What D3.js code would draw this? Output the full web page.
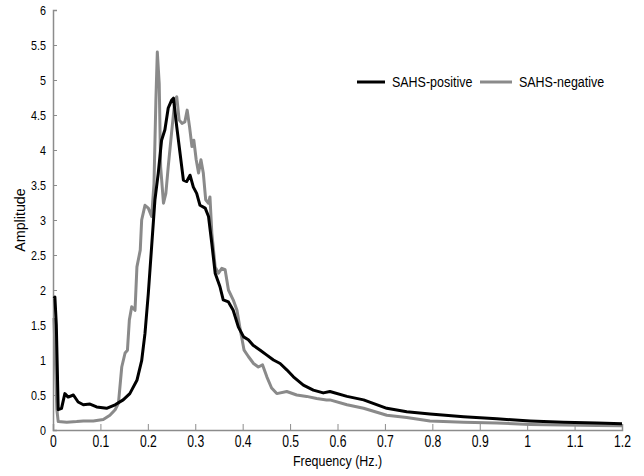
<!DOCTYPE html>
<html>
<head>
<meta charset="utf-8">
<script src="https://cdn.jsdelivr.net/npm/d3@7"></script>
<style>
  body { margin: 0; background: #fff; }
  svg text { font-family: "Liberation Sans", Arial, sans-serif; }
</style>
</head>
<body>
<div id="chart"></div>
<script>
// data
const xTicks = [0, 0.1, 0.2, 0.3, 0.4, 0.5, 0.6, 0.7, 0.8, 0.9, 1, 1.1, 1.2];
const yTicks = [0, 0.5, 1, 1.5, 2, 2.5, 3, 3.5, 4, 4.5, 5, 5.5, 6];

const posFreq = [0.002, 0.004, 0.007, 0.011, 0.018, 0.025, 0.032, 0.043, 0.053, 0.064, 0.078, 0.092, 0.113, 0.131, 0.148, 0.162, 0.177, 0.187, 0.194, 0.201, 0.208, 0.215, 0.222, 0.229, 0.236, 0.243, 0.250, 0.254, 0.261, 0.268, 0.275, 0.282, 0.289, 0.296, 0.303, 0.310, 0.321, 0.328, 0.335, 0.342, 0.352, 0.359, 0.370, 0.380, 0.391, 0.402, 0.412, 0.422, 0.437, 0.451, 0.465, 0.479, 0.493, 0.507, 0.528, 0.549, 0.570, 0.584, 0.620, 0.655, 0.704, 0.746, 0.795, 0.866, 0.936, 1.006, 1.077, 1.147, 1.2];
const posAmp  = [1.88, 1.90, 1.50, 0.29, 0.31, 0.52, 0.47, 0.50, 0.40, 0.36, 0.37, 0.33, 0.31, 0.36, 0.43, 0.52, 0.71, 0.99, 1.38, 1.95, 2.62, 3.29, 3.67, 4.14, 4.29, 4.60, 4.71, 4.74, 4.33, 3.95, 3.57, 3.55, 3.64, 3.47, 3.38, 3.21, 3.17, 3.05, 2.66, 2.24, 2.05, 1.86, 1.83, 1.71, 1.47, 1.33, 1.29, 1.21, 1.14, 1.07, 1.00, 0.95, 0.86, 0.76, 0.64, 0.57, 0.53, 0.55, 0.48, 0.43, 0.31, 0.26, 0.23, 0.19, 0.16, 0.13, 0.11, 0.10, 0.09];

const negFreq = [0.002, 0.005, 0.008, 0.011, 0.029, 0.050, 0.064, 0.085, 0.106, 0.120, 0.131, 0.138, 0.145, 0.152, 0.157, 0.161, 0.166, 0.173, 0.177, 0.184, 0.187, 0.194, 0.201, 0.208, 0.213, 0.217, 0.220, 0.224, 0.227, 0.233, 0.238, 0.243, 0.250, 0.257, 0.261, 0.266, 0.272, 0.278, 0.283, 0.288, 0.293, 0.297, 0.302, 0.307, 0.312, 0.317, 0.322, 0.328, 0.331, 0.335, 0.342, 0.349, 0.356, 0.363, 0.370, 0.380, 0.388, 0.395, 0.403, 0.412, 0.423, 0.433, 0.442, 0.451, 0.461, 0.472, 0.493, 0.514, 0.535, 0.556, 0.577, 0.584, 0.620, 0.655, 0.704, 0.746, 0.795, 0.866, 0.936, 1.006, 1.077, 1.147, 1.2];
const negAmp  = [1.60, 1.00, 0.30, 0.12, 0.11, 0.12, 0.13, 0.13, 0.15, 0.21, 0.29, 0.38, 0.90, 1.10, 1.14, 1.57, 1.76, 1.71, 2.33, 2.57, 3.00, 3.21, 3.17, 3.05, 3.52, 4.71, 5.40, 4.95, 3.76, 3.24, 3.38, 3.76, 4.24, 4.71, 4.76, 4.43, 4.38, 4.40, 4.57, 4.33, 4.05, 4.14, 3.86, 3.67, 3.86, 3.67, 3.29, 3.24, 3.33, 2.81, 2.33, 2.24, 2.31, 2.29, 2.00, 1.86, 1.71, 1.43, 1.14, 1.05, 0.95, 0.90, 0.93, 0.76, 0.60, 0.52, 0.55, 0.50, 0.48, 0.45, 0.43, 0.43, 0.36, 0.31, 0.21, 0.18, 0.13, 0.11, 0.10, 0.08, 0.07, 0.065, 0.06];

const seriesNames = ["SAHS-positive", "SAHS-negative"];
const seriesColors = ["#000000", "#8a8a8a"];

const width = 644, height = 476;
const margin = {top: 10, right: 22, bottom: 46, left: 53};

const svg = d3.select("#chart").append("svg")
    .attr("width", width)
    .attr("height", height);

const x = d3.scaleLinear().domain([0, 1.2]).range([margin.left, width - margin.right]);
const y = d3.scaleLinear().domain([0, 6]).range([height - margin.bottom, margin.top]);

// axes, matlab style: grey, ticks pointing inward
const axisColor = "#8c8c8c";

const xAxis = svg.append("g")
    .attr("transform", `translate(0,${y(0)})`)
    .call(d3.axisBottom(x).tickValues(xTicks).tickSize(-6).tickFormat(d3.format("")));
const yAxis = svg.append("g")
    .attr("transform", `translate(${x(0)},0)`)
    .call(d3.axisLeft(y).tickValues(yTicks).tickSize(-4).tickFormat(d3.format("")));

[xAxis, yAxis].forEach(g => {
    g.select(".domain").attr("stroke", axisColor).attr("stroke-width", 1.5);
    g.selectAll(".tick line").attr("stroke", axisColor);
});

// the original font is a narrow sans, so squeeze the text horizontally
xAxis.selectAll(".tick text")
    .attr("fill", "#000")
    .attr("dy", null)
    .attr("y", 17)
    .attr("transform", "scale(0.76,1)")
    .style("font-size", "16px");

yAxis.selectAll(".tick text")
    .attr("fill", "#000")
    .attr("x", -7 / 0.86)
    .attr("transform", "scale(0.86,1)")
    .style("font-size", "12.5px");

// axis titles
svg.append("text")
    .attr("transform", `translate(${(x(0) + x(1.2)) / 2},466) scale(0.83,1)`)
    .attr("text-anchor", "middle")
    .style("font-size", "15px")
    .text("Frequency (Hz.)");

svg.append("text")
    .attr("transform", `translate(25,${y(3)}) rotate(-90) scale(0.95,1)`)
    .attr("text-anchor", "middle")
    .style("font-size", "15px")
    .text("Amplitude");

// lines
const line = d3.line()
    .x(d => x(d[0]))
    .y(d => y(d[1]));

const negData = negFreq.map((f, i) => [f, negAmp[i]]);
const posData = posFreq.map((f, i) => [f, posAmp[i]]);

svg.append("path")
    .datum(negData)
    .attr("fill", "none")
    .attr("stroke", seriesColors[1])
    .attr("stroke-width", 3)
    .attr("stroke-linejoin", "round")
    .attr("d", line);

svg.append("path")
    .datum(posData)
    .attr("fill", "none")
    .attr("stroke", seriesColors[0])
    .attr("stroke-width", 3)
    .attr("stroke-linejoin", "round")
    .attr("d", line);

// legend
const legend = svg.append("g").attr("transform", "translate(357,82)");
const legX = [0, 123];
const legLen = [28, 32];
seriesNames.forEach((name, i) => {
    const g = legend.append("g").attr("transform", `translate(${legX[i]},0)`);
    g.append("line")
        .attr("x1", 0).attr("x2", legLen[i])
        .attr("y1", 0).attr("y2", 0)
        .attr("stroke", seriesColors[i])
        .attr("stroke-width", 3);
    g.append("text")
        .attr("transform", `translate(${legLen[i] + 7},5) scale(0.89,1)`)
        .style("font-size", "14px")
        .text(name);
});
</script>
</body>
</html>
